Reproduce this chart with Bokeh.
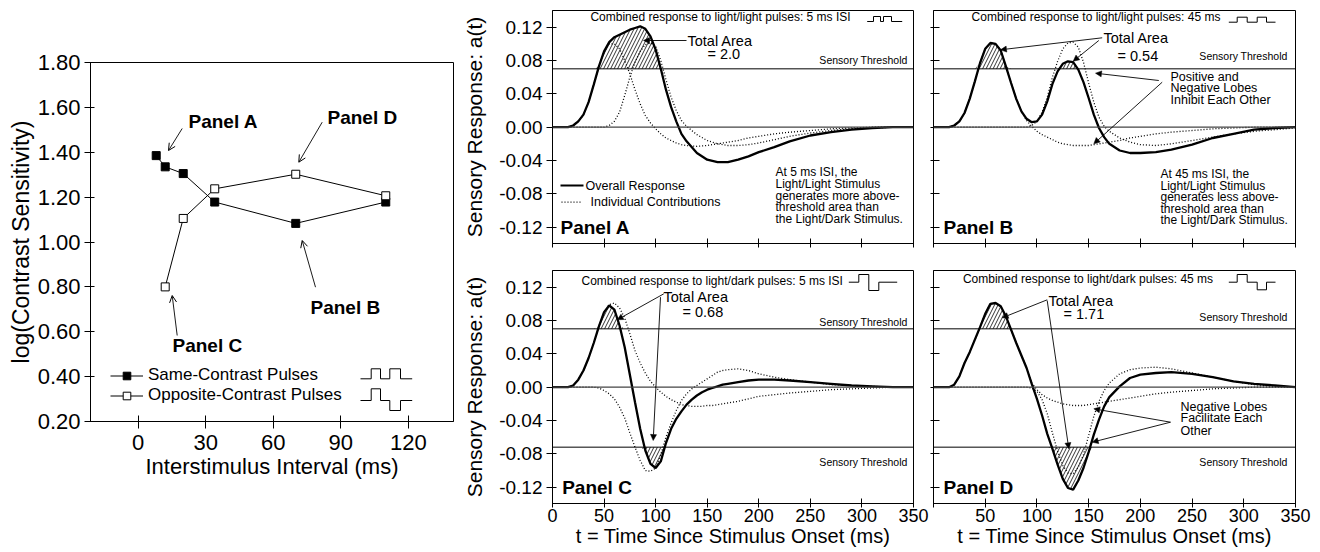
import numpy as np
from bokeh.plotting import figure
from bokeh.layouts import row, column
from bokeh.models import (Label, Arrow, NormalHead, OpenHead, Legend, LegendItem,
                          FixedTicker, CustomJSTickFormatter, Range1d, Span)
from bokeh.embed import file_html
from bokeh.resources import INLINE

FONT = "Liberation Sans"

# ---------------- data: left panel ----------------
isi_same = [8, 12, 20, 34, 70, 110]
sens_same = [1.385, 1.335, 1.305, 1.178, 1.083, 1.178]
isi_opp = [12, 20, 34, 70, 110]
sens_opp = [0.80, 1.105, 1.237, 1.302, 1.206]
left_xticks = [0, 30, 60, 90, 120]
left_yticks = [0.2, 0.4, 0.6, 0.8, 1.0, 1.2, 1.4, 1.6, 1.8]

# ---------------- data: response curves ----------------
T_A = [0, 15, 20, 25, 30, 35, 40, 45, 50, 55, 60, 65, 70, 75, 80, 85, 90, 95, 100, 105,
       110, 115, 120, 125, 130, 140, 150, 160, 170, 180, 190, 200, 215, 230, 250, 270, 290, 310, 330, 350]
A_total = [0, 0, 0.002, 0.007, 0.015, 0.030, 0.051, 0.073, 0.091, 0.102,
           0.108, 0.111, 0.114, 0.117, 0.119, 0.121, 0.118, 0.109, 0.093, 0.070,
           0.045, 0.024, 0.007, -0.008, -0.017, -0.031, -0.039, -0.042, -0.042, -0.039,
           -0.035, -0.030, -0.024, -0.017, -0.010, -0.006, -0.003, -0.001, 0, 0]
A_ind1 = [0, 0, 0.002, 0.007, 0.015, 0.030, 0.051, 0.073, 0.091, 0.100,
          0.100, 0.094, 0.080, 0.064, 0.045, 0.028, 0.014, 0.005, -0.002, -0.008,
          -0.013, -0.016, -0.019, -0.021, -0.022, -0.023, -0.022, -0.020, -0.018, -0.016,
          -0.013, -0.011, -0.008, -0.006, -0.004, -0.002, -0.001, 0, 0, 0]
A_ind2 = [0, 0, 0, 0, 0, 0, 0, 0, 0, 0.002,
          0.007, 0.018, 0.038, 0.060, 0.078, 0.091, 0.099, 0.101, 0.097, 0.080,
          0.057, 0.036, 0.020, 0.008, 0.001, -0.009, -0.016, -0.020, -0.022, -0.022,
          -0.021, -0.019, -0.015, -0.011, -0.007, -0.004, -0.002, -0.001, 0, 0]

T = [0, 15, 20, 25, 30, 35, 40, 45, 50, 55, 60, 65, 70, 75, 80, 85, 90, 95, 100, 105,
     110, 115, 120, 125, 130, 135, 140, 145, 150, 155, 160, 165, 170, 180, 190, 200,
     215, 230, 250, 270, 290, 310, 330, 350]
B_total = [0, 0, 0.002, 0.007, 0.017, 0.034, 0.055, 0.077, 0.094, 0.101,
           0.100, 0.092, 0.073, 0.053, 0.034, 0.019, 0.010, 0.006, 0.007, 0.015,
           0.031, 0.052, 0.067, 0.076, 0.079, 0.078, 0.069, 0.054, 0.035, 0.015,
           -0.001, -0.012, -0.020, -0.028, -0.031, -0.031, -0.030, -0.027, -0.021, -0.013,
           -0.008, -0.003, -0.001, 0]
B_ind1 = [0, 0, 0.002, 0.007, 0.017, 0.034, 0.055, 0.077, 0.094, 0.101,
          0.100, 0.092, 0.073, 0.053, 0.034, 0.019, 0.008, 0.001, -0.005, -0.009,
          -0.012, -0.015, -0.018, -0.020, -0.021, -0.022, -0.022, -0.022, -0.022, -0.021,
          -0.020, -0.019, -0.018, -0.016, -0.013, -0.011, -0.008, -0.006, -0.004, -0.002,
          -0.001, 0, 0, 0]
B_ind2 = [0, 0, 0, 0, 0, 0, 0, 0, 0, 0,
          0, 0, 0, 0, 0, 0, 0, 0.002, 0.007, 0.018,
          0.036, 0.060, 0.079, 0.094, 0.101, 0.102, 0.096, 0.078, 0.053, 0.030,
          0.012, 0.001, -0.005, -0.013, -0.018, -0.021, -0.022, -0.020, -0.016, -0.012,
          -0.008, -0.005, -0.003, -0.001]
C_total = [0, 0, 0.002, 0.009, 0.020, 0.035, 0.053, 0.073, 0.090, 0.098,
           0.093, 0.074, 0.048, 0.015, -0.018, -0.050, -0.076, -0.092, -0.097, -0.089,
           -0.067, -0.050, -0.038, -0.029, -0.021, -0.015, -0.010, -0.006, -0.003, -0.001,
           0.001, 0.003, 0.004, 0.006, 0.008, 0.009, 0.009, 0.008, 0.006, 0.004,
           0.002, 0.001, 0, 0]
C_ind1 = [0, 0, 0.002, 0.009, 0.020, 0.035, 0.053, 0.073, 0.090, 0.099,
          0.101, 0.095, 0.083, 0.064, 0.044, 0.029, 0.017, 0.007, 0.000, -0.006,
          -0.011, -0.015, -0.018, -0.021, -0.022, -0.023, -0.023, -0.023, -0.022, -0.022,
          -0.021, -0.020, -0.019, -0.017, -0.014, -0.011, -0.009, -0.007, -0.005, -0.003,
          -0.002, -0.001, 0, 0]
C_ind2 = [0, 0, 0, 0, 0, 0, 0, -0.001, -0.004, -0.008,
          -0.014, -0.024, -0.037, -0.055, -0.072, -0.088, -0.100, -0.101, -0.097, -0.081,
          -0.060, -0.043, -0.028, -0.016, -0.008, -0.002, 0.002, 0.006, 0.010, 0.014,
          0.018, 0.020, 0.021, 0.022, 0.020, 0.016, 0.012, 0.009, 0.006, 0.003,
          0.002, 0.001, 0, 0]
D_total = [0, 0, 0.003, 0.013, 0.029, 0.042, 0.057, 0.072, 0.088, 0.100,
           0.101, 0.097, 0.085, 0.069, 0.053, 0.038, 0.023, 0.004, -0.014, -0.034,
           -0.056, -0.074, -0.093, -0.110, -0.121, -0.123, -0.112, -0.097, -0.078, -0.057,
           -0.039, -0.023, -0.012, 0.001, 0.011, 0.015, 0.017, 0.018, 0.016, 0.012,
           0.007, 0.004, 0.002, 0]
D_ind1 = [0, 0, 0.003, 0.013, 0.029, 0.042, 0.057, 0.072, 0.088, 0.100,
          0.101, 0.097, 0.085, 0.069, 0.053, 0.038, 0.023, 0.005, -0.003, -0.009,
          -0.013, -0.016, -0.018, -0.020, -0.021, -0.022, -0.022, -0.022, -0.021, -0.020,
          -0.019, -0.018, -0.017, -0.015, -0.013, -0.011, -0.008, -0.006, -0.004, -0.002,
          -0.001, 0, 0, 0]
D_ind2 = [0, 0, 0, 0, 0, 0, 0, 0, 0, 0,
          0, 0, 0, 0, 0, 0, 0, -0.001, -0.005, -0.015,
          -0.032, -0.055, -0.077, -0.094, -0.103, -0.104, -0.096, -0.081, -0.058, -0.035,
          -0.017, -0.004, 0.005, 0.016, 0.021, 0.023, 0.024, 0.022, 0.017, 0.012,
          0.007, 0.003, 0.001, 0]

x_ticks = [0, 50, 100, 150, 200, 250, 300, 350]
y_ticks = [-0.12, -0.08, -0.04, 0.0, 0.04, 0.08, 0.12]
THR_POS = 0.07
THR_NEG = -0.072
Y_TOP = 0.14
Y_BOT = -0.1396


# ---------------- coordinate helpers (reference pixel -> data) ----------------
def ac_x(sx): return (sx - 552.0) * 350.0 / 361.0
def bd_x(sx): return (sx - 933.0) * 350.0 / 362.0
def top_y(sy): return Y_TOP - (sy - 10.0) / 833.33
def bot_y(sy): return Y_TOP - (sy - 270.0) / 833.33
def lx(sx): return -21.2 + (sx - 90.0) * 161.3 / 363.0
def ly(sy): return 1.8 - (sy - 62.0) * 1.6 / 359.0


def txt(p, x, y, s, size, align="left", bold=False, baseline="middle"):
    p.add_layout(Label(x=x, y=y, text=s, text_font=FONT, text_font_size=f"{size}px",
                       text_align=align, text_baseline=baseline, text_color="black",
                       text_font_style="bold" if bold else "normal"))


def arrow(p, x0, y0, x1, y1, open_head=False):
    head = OpenHead(size=7, line_width=1, line_color="black") if open_head else \
        NormalHead(size=6, fill_color="black", line_color="black", line_width=0.5)
    p.add_layout(Arrow(end=head, x_start=x0, y_start=y0, x_end=x1, y_end=y1,
                       line_color="black", line_width=0.9))


def style_axes(p):
    for ax in (p.xaxis[0], p.yaxis[0]):
        ax.axis_line_color = "black"
        ax.major_tick_line_color = "black"
        ax.minor_tick_line_color = None
        ax.major_label_text_font = FONT
        ax.axis_label_text_font = FONT
        ax.axis_label_text_font_style = "normal"
        ax.major_label_text_color = "black"
        ax.axis_label_text_color = "black"
    p.xgrid.visible = False
    p.ygrid.visible = False
    p.outline_line_color = "black"
    p.outline_line_alpha = 1
    p.outline_line_width = 1
    p.background_fill_color = "white"
    p.border_fill_color = "white"


# ---------------- left panel ----------------
L = figure(width=460, height=552, x_range=Range1d(-21.2, 140.1), y_range=Range1d(0.2, 1.8),
           output_backend="svg", toolbar_location=None, title=None,
           min_border_left=90, min_border_right=7, min_border_top=62, min_border_bottom=131)
style_axes(L)
L.xaxis.ticker = FixedTicker(ticks=left_xticks)
L.yaxis.ticker = FixedTicker(ticks=left_yticks)
L.xaxis.formatter = CustomJSTickFormatter(code="return tick.toFixed(0);")
L.yaxis.formatter = CustomJSTickFormatter(code="return tick.toFixed(2);")
L.xaxis.major_label_text_font_size = "22px"
L.yaxis.major_label_text_font_size = "22px"
L.xaxis.axis_label = "Interstimulus Interval (ms)"
L.yaxis.axis_label = "log(Contrast Sensitivity)"
L.xaxis.axis_label_text_font_size = "22px"
L.yaxis.axis_label_text_font_size = "23px"
L.xaxis.major_tick_in = 6
L.xaxis.major_tick_out = 7
L.yaxis.major_tick_in = 4
L.yaxis.major_tick_out = 6
L.xaxis.major_label_standoff = 6
L.yaxis.major_label_standoff = 4
L.xaxis.axis_label_standoff = 1
L.yaxis.axis_label_standoff = 1

r1 = L.line(isi_same, sens_same, line_color="black", line_width=1)
s1 = L.scatter(isi_same, sens_same, marker="square", size=8, fill_color="black", line_color="black")
r2 = L.line(isi_opp, sens_opp, line_color="black", line_width=1)
s2 = L.scatter(isi_opp, sens_opp, marker="square", size=8, fill_color="white", line_color="black")

leg = Legend(items=[LegendItem(label="Same-Contrast Pulses", renderers=[r1, s1]),
                    LegendItem(label="Opposite-Contrast Pulses", renderers=[r2, s2])],
             location=(20, 16), border_line_color=None, background_fill_alpha=0,
             padding=0, margin=0, spacing=0, glyph_width=33, glyph_height=19,
             label_height=19, label_standoff=5, label_text_font=FONT,
             label_text_font_size="17px", label_text_color="black")
L.add_layout(leg)

# pulse icons next to the legend
icon_x = [360, 370.7, 370.7, 380, 380, 389.3, 389.3, 400, 400, 411.7]
L.line([lx(v) for v in icon_x],
       [ly(v) for v in [378.3, 378.3, 368.3, 368.3, 378.3, 378.3, 368.3, 368.3, 378.3, 378.3]],
       line_color="black", line_width=1)
L.line([lx(v) for v in icon_x],
       [ly(v) for v in [400, 400, 388.3, 388.3, 400, 400, 410, 410, 400, 400]],
       line_color="black", line_width=1)

txt(L, lx(188), ly(121), "Panel A", 19, bold=True)
arrow(L, lx(181.7), ly(128), lx(168), ly(150), open_head=True)
txt(L, lx(327), ly(117), "Panel D", 19, bold=True)
arrow(L, lx(321.7), ly(121.7), lx(298.3), ly(161.7), open_head=True)
txt(L, lx(310), ly(307), "Panel B", 19, bold=True)
arrow(L, lx(315), ly(286.7), lx(301.7), ly(240), open_head=True)
txt(L, lx(172), ly(345), "Panel C", 19, bold=True)
arrow(L, lx(176.7), ly(335), lx(171.7), ly(295), open_head=True)


# ---------------- response panels ----------------
def make_panel(width, mbl, mbr, height, mbt, mbb, ylabels, xlabels, ylabel, hide_zero=False):
    p = figure(width=width, height=height, x_range=Range1d(0, 350), y_range=Range1d(Y_BOT, Y_TOP),
               output_backend="svg", toolbar_location=None, title=None,
               min_border_left=mbl, min_border_right=mbr, min_border_top=mbt, min_border_bottom=mbb)
    style_axes(p)
    p.xaxis.ticker = FixedTicker(ticks=x_ticks)
    p.yaxis.ticker = FixedTicker(ticks=y_ticks)
    if ylabels:
        p.yaxis.formatter = CustomJSTickFormatter(code="return tick.toFixed(2);")
        p.yaxis.major_label_text_font_size = "19px"
        p.yaxis.major_label_standoff = 4
        p.yaxis.major_tick_out = 6
        p.yaxis.major_tick_in = 4
    else:
        p.yaxis.formatter = CustomJSTickFormatter(code="return '';")
        p.yaxis.major_label_standoff = 0
        p.yaxis.major_tick_out = 3
        p.yaxis.major_tick_in = 6
    if xlabels:
        if hide_zero:
            p.xaxis.formatter = CustomJSTickFormatter(code="return tick == 0 ? '' : tick.toFixed(0);")
        else:
            p.xaxis.formatter = CustomJSTickFormatter(code="return tick.toFixed(0);")
        p.xaxis.major_label_text_font_size = "18px"
        p.xaxis.major_label_standoff = 1
        p.xaxis.axis_label = "t = Time Since Stimulus Onset (ms)"
        p.xaxis.axis_label_text_font_size = "20px"
        p.xaxis.axis_label_standoff = 0
    else:
        p.xaxis.formatter = CustomJSTickFormatter(code="return '';")
        p.xaxis.major_label_standoff = 0
    p.xaxis.major_tick_out = 4
    p.xaxis.major_tick_in = 5
    if ylabel:
        p.yaxis.axis_label = "Sensory Response: a(t)"
        p.yaxis.axis_label_text_font_size = "21px"
        p.yaxis.axis_label_standoff = 10
    p.add_layout(Span(location=0, dimension="width", line_color="#444444", line_width=1.2))
    return p


def draw_curves(p, t, total, ind1, ind2, neg=False):
    t = np.array(t, dtype=float)
    tot = np.array(total, dtype=float)
    p.varea(x=t, y1=np.full_like(tot, THR_POS), y2=np.maximum(tot, THR_POS),
            fill_color="white", fill_alpha=0, hatch_pattern="/", hatch_color="black",
            hatch_weight=0.8, hatch_scale=7, hatch_alpha=1)
    if neg:
        p.varea(x=t, y1=np.minimum(tot, THR_NEG), y2=np.full_like(tot, THR_NEG),
                fill_color="white", fill_alpha=0, hatch_pattern="/", hatch_color="black",
                hatch_weight=0.8, hatch_scale=7, hatch_alpha=1)
    p.add_layout(Span(location=THR_POS, dimension="width", line_color="black", line_width=1))
    if neg:
        p.add_layout(Span(location=THR_NEG, dimension="width", line_color="black", line_width=1))
    p.line(t, ind1, line_color="black", line_width=1.3, line_dash="1 2")
    p.line(t, ind2, line_color="black", line_width=1.3, line_dash="1 2")
    p.line(t, tot, line_color="black", line_width=2.3)


A = make_panel(463, 92, 10, 262, 10, 19, True, False, True)
B = make_panel(397, 10, 25, 262, 10, 19, False, False, False)
C = make_panel(469, 92, 16, 290, 8, 49, True, True, True)
D = make_panel(391, 4, 25, 290, 8, 49, False, True, False, hide_zero=True)

draw_curves(A, T_A, A_total, A_ind1, A_ind2)
draw_curves(B, T, B_total, B_ind1, B_ind2)
draw_curves(C, T, C_total, C_ind1, C_ind2, neg=True)
draw_curves(D, T, D_total, D_ind1, D_ind2, neg=True)

# ---- Panel A annotations ----
txt(A, ac_x(720), top_y(16.5), "Combined response to light/light pulses: 5 ms ISI", 12, align="center")
A.line([ac_x(v) for v in [866.7, 873, 873, 880, 880, 883, 883, 891, 891, 901.7]],
       [top_y(v) for v in [21, 21, 16, 16, 21, 21, 16, 16, 21, 21]], line_color="black", line_width=1)
txt(A, ac_x(687), top_y(40), "Total Area", 14.5)
txt(A, ac_x(707), top_y(53), "= 2.0", 14.5)
arrow(A, ac_x(686), top_y(40), ac_x(643), top_y(40))
txt(A, ac_x(907), top_y(59), "Sensory Threshold", 10.5, align="right")
A.line([ac_x(560), ac_x(583)], [top_y(185), top_y(185)], line_color="black", line_width=2)
txt(A, ac_x(585), top_y(185), "Overall Response", 12.5)
A.line([ac_x(561), ac_x(582)], [top_y(201.7), top_y(201.7)], line_color="black", line_width=1.3, line_dash="1 2")
txt(A, ac_x(590), top_y(201.7), "Individual Contributions", 12.5)
for s, yy in zip(["At 5 ms ISI, the", "Light/Light Stimulus", "generates more above-",
                  "threshold area than", "the Light/Dark Stimulus."],
                 [171.7, 183.3, 195.0, 206.7, 218.3]):
    txt(A, ac_x(775), top_y(yy), s, 12)
txt(A, ac_x(560), top_y(226.7), "Panel A", 19, bold=True)

# ---- Panel B annotations ----
txt(B, bd_x(1095.5), top_y(16.5), "Combined response to light/light pulses: 45 ms", 12, align="center")
B.line([bd_x(v) for v in [1228.3, 1236.7, 1236.7, 1246.7, 1246.7, 1256.7, 1256.7, 1266, 1266, 1275]],
       [top_y(v) for v in [21.7, 21.7, 16.7, 16.7, 21.7, 21.7, 16.7, 16.7, 21.7, 21.7]],
       line_color="black", line_width=1)
txt(B, bd_x(1103), top_y(37.7), "Total Area", 14.5)
txt(B, bd_x(1117), top_y(55), "= 0.54", 14.5)
arrow(B, bd_x(1101.7), top_y(37.3), bd_x(1000), top_y(49.3))
arrow(B, bd_x(1098.3), top_y(40), bd_x(1072.7), top_y(60.7))
txt(B, bd_x(1287), top_y(55), "Sensory Threshold", 10.5, align="right")
for s, yy in zip(["Positive and", "Negative Lobes", "Inhibit Each Other"], [76, 87.5, 99]):
    txt(B, bd_x(1170), top_y(yy), s, 12.5)
arrow(B, bd_x(1158.3), top_y(80), bd_x(1095), top_y(72.7))
arrow(B, bd_x(1161.7), top_y(81.7), bd_x(1093.3), top_y(143.3))
for s, yy in zip(["At 45 ms ISI, the", "Light/Light Stimulus", "generates less above-",
                  "threshold area than", "the Light/Dark Stimulus."],
                 [173.3, 185.0, 196.7, 208.3, 219.8]):
    txt(B, bd_x(1160), top_y(yy), s, 12)
txt(B, bd_x(943), top_y(226.7), "Panel B", 19, bold=True)

# ---- Panel C annotations ----
txt(C, ac_x(711.7), bot_y(280), "Combined response to light/dark pulses: 5 ms ISI", 12, align="center")
C.line([ac_x(v) for v in [848.3, 858.3, 858.3, 868.3, 868.3, 878.3, 878.3, 896.7]],
       [bot_y(v) for v in [281.7, 281.7, 274, 274, 290, 290, 281.7, 281.7]],
       line_color="black", line_width=1)
txt(C, ac_x(663), bot_y(296.7), "Total Area", 14.5)
txt(C, ac_x(682), bot_y(311.7), "= 0.68", 14.5)
arrow(C, ac_x(663.3), bot_y(293.3), ac_x(616.7), bot_y(319.3))
arrow(C, ac_x(660), bot_y(296.7), ac_x(652.7), bot_y(440))
txt(C, ac_x(907), bot_y(321.7), "Sensory Threshold", 10.5, align="right")
txt(C, ac_x(907), bot_y(461.7), "Sensory Threshold", 10.5, align="right")
txt(C, ac_x(561.7), bot_y(486.7), "Panel C", 19, bold=True)

# ---- Panel D annotations ----
txt(D, bd_x(1087.5), bot_y(278.3), "Combined response to light/dark pulses: 45 ms", 12, align="center")
D.line([bd_x(v) for v in [1228.3, 1236.7, 1236.7, 1246.7, 1246.7, 1256.7, 1256.7, 1266, 1266, 1275]],
       [bot_y(v) for v in [281.7, 281.7, 274, 274, 281.7, 281.7, 289.3, 289.3, 281.7, 281.7]],
       line_color="black", line_width=1)
txt(D, bd_x(1048), bot_y(300), "Total Area", 14.5)
txt(D, bd_x(1063), bot_y(313), "= 1.71", 14.5)
arrow(D, bd_x(1046.7), bot_y(299.3), bd_x(1001.7), bot_y(317.3))
arrow(D, bd_x(1046.7), bot_y(300), bd_x(1068.3), bot_y(448.3))
txt(D, bd_x(1287), bot_y(316.7), "Sensory Threshold", 10.5, align="right")
txt(D, bd_x(1287), bot_y(461), "Sensory Threshold", 10.5, align="right")
for s, yy in zip(["Negative Lobes", "Facilitate Each", "Other"], [406.7, 417.5, 430]):
    txt(D, bd_x(1180), bot_y(yy), s, 12.5)
arrow(D, bd_x(1170), bot_y(421.7), bd_x(1093.3), bot_y(408.3))
arrow(D, bd_x(1170), bot_y(421.7), bd_x(1091.7), bot_y(441.7))
txt(D, bd_x(943), bot_y(486.7), "Panel D", 19, bold=True)

layout = row(L, column(row(A, B), row(C, D)))
open("out.html", "w").write(file_html(layout, INLINE))
